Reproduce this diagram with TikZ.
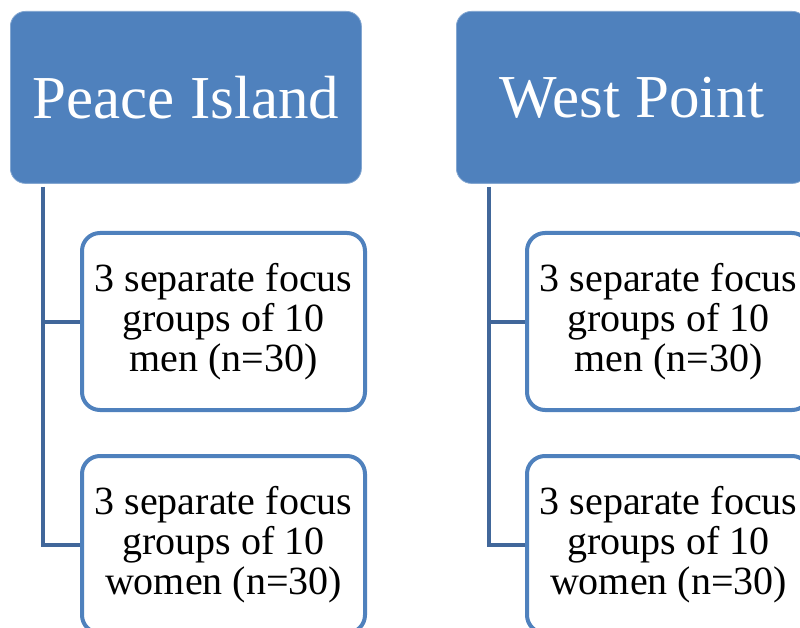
\documentclass[tikz,border=0pt]{standalone}
\usepackage{fontspec}
\setmainfont{Liberation Serif}
\definecolor{hdrblue}{HTML}{4F81BD}
\definecolor{linkblue}{HTML}{41679A}
\begin{document}
\begin{tikzpicture}[x=1pt,y=1pt,
  header/.style={rectangle, rounded corners=15pt, fill=hdrblue, draw=hdrblue!70!white, line width=0.8pt,
    minimum width=351pt, minimum height=172pt, inner sep=0pt, text=white,
    font=\fontsize{61}{70}\selectfont, anchor=north west},
  child/.style={rectangle, rounded corners=18pt, fill=white, draw=hdrblue, line width=4pt,
    minimum width=283pt, minimum height=177pt, inner sep=0pt, align=center,
    font=\fontsize{40}{40}\selectfont, anchor=north west},
  link/.style={draw=linkblue, line width=4pt}]
\useasboundingbox (0,0) rectangle (800,-628);
\node[header] (h1) at (10,-11) {Peace Island};
\node[header] (h2) at (456,-11) {West Point};
\node[child] (c1) at (80,-231) {3 separate focus\\groups of 10\\men (n=30)};
\node[child] (c2) at (80,-454) {3 separate focus\\groups of 10\\women (n=30)};
\node[child] (c3) at (525,-231) {3 separate focus\\groups of 10\\men (n=30)};
\node[child] (c4) at (525,-454) {3 separate focus\\groups of 10\\women (n=30)};
\coordinate (t1) at ([xshift=33pt,yshift=-3pt]h1.south west);
\coordinate (t2) at ([xshift=33pt,yshift=-3pt]h2.south west);
\draw[link] (t1) |- (c1.west);
\draw[link] (t1) |- (c2.west);
\draw[link] (t2) |- (c3.west);
\draw[link] (t2) |- (c4.west);
\end{tikzpicture}
\end{document}
